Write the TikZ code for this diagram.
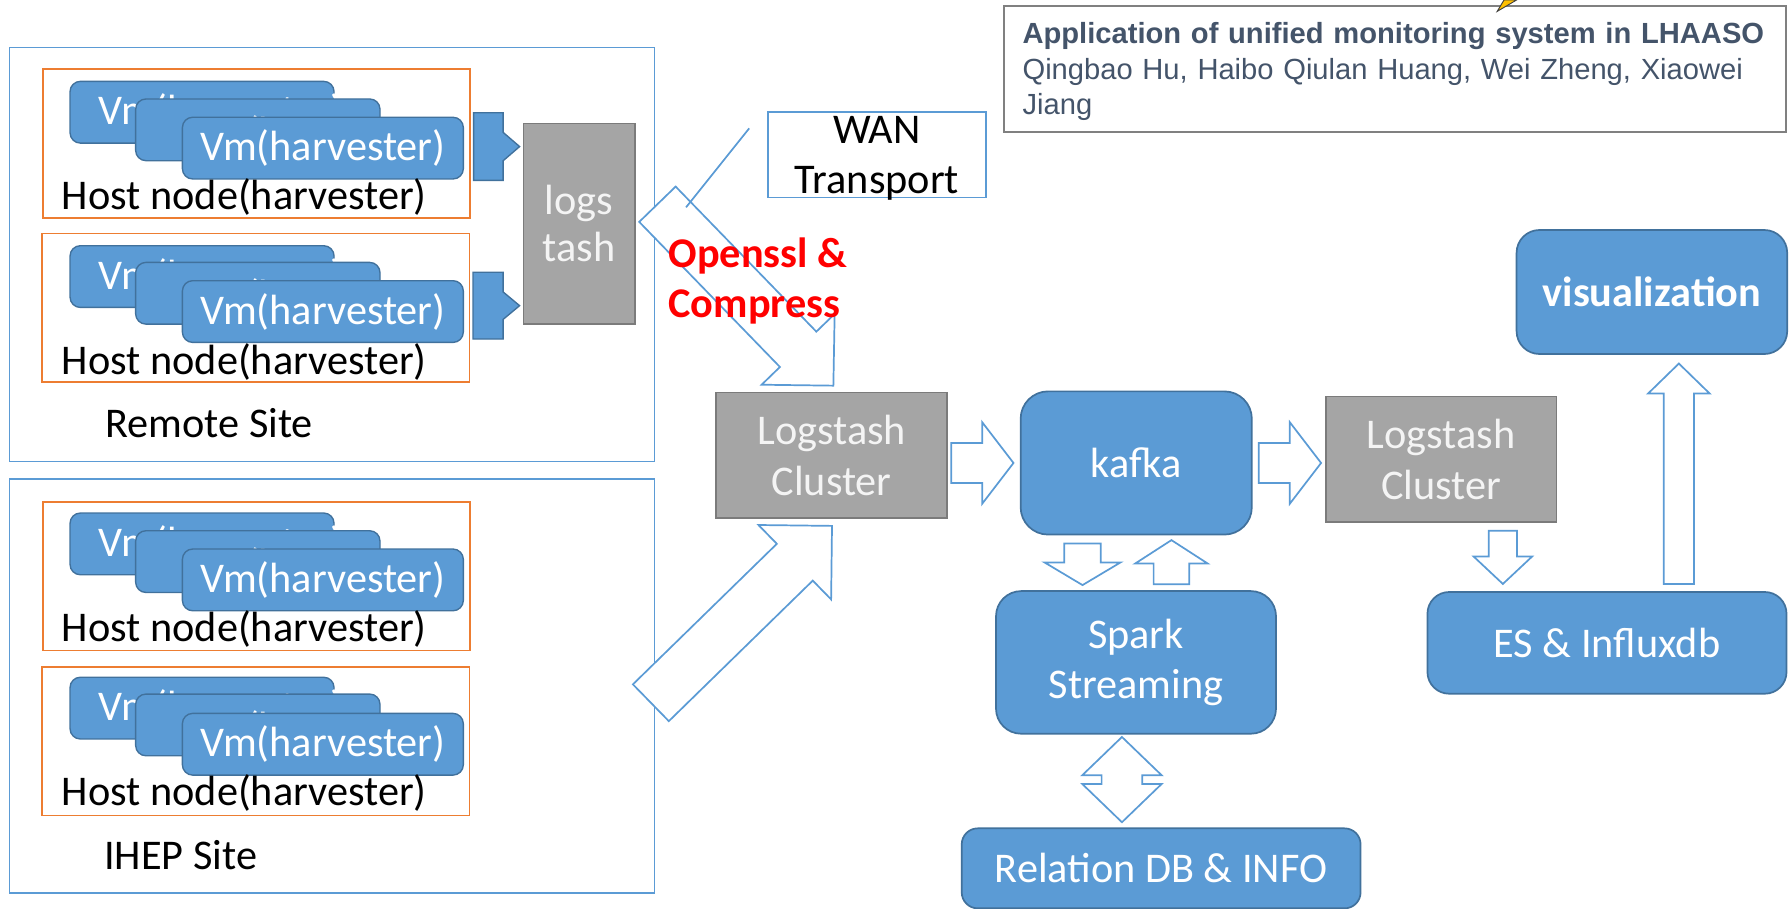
\documentclass[tikz,border=0pt]{standalone}
\usepackage{fontspec}
\setmainfont{Carlito}
\newfontfamily\titlefont{Liberation Sans}
\usetikzlibrary{calc}

\definecolor{offblue}{HTML}{5B9BD5}
\definecolor{edgeblue}{HTML}{41719C}
\definecolor{offorange}{HTML}{ED7D31}
\definecolor{boxgray}{HTML}{A5A5A5}
\definecolor{edgegray}{HTML}{7B7B7B}
\definecolor{graytext}{HTML}{F4F4F4}
\definecolor{titleink}{HTML}{44546A}
\definecolor{framegray}{HTML}{808080}
\definecolor{pinyellow}{HTML}{FFC000}

\newcommand{\slidefont}{\fontsize{37}{44}\selectfont}

\tikzset{
  site/.style={draw=offblue, line width=1.5pt, minimum width=564.4pt, minimum height=362.3pt, anchor=north west},
  sitelabel/.style={anchor=base west, font=\slidefont},
  host/.style={draw=offorange, line width=1.5pt, minimum width=373.8pt, minimum height=130pt, anchor=north west},
  hostlabel/.style={anchor=base west, font=\slidefont},
  vm/.style={draw=edgeblue, fill=offblue, line width=1.2pt, rounded corners=9pt, text=white, font=\slidefont, minimum height=54pt, anchor=north west},
  vmback/.style={vm, minimum width=231pt, text width=182pt, align=left},
  vmmid/.style={vm, minimum width=213.8pt, text width=120pt, align=left, text height=29pt, text depth=0pt},
  vmfront/.style={vm, minimum width=245.8pt},
  graybox/.style={draw=edgegray, fill=boxgray, line width=1.5pt, text=graytext, font=\slidefont, align=center},
  bluebox/.style={draw=edgeblue, fill=offblue, line width=1.5pt, text=white, font=\slidefont, align=center},
  wanbox/.style={draw=offblue, line width=1.5pt, font=\slidefont, align=center, text depth=0pt, minimum width=191pt, minimum height=74.4pt},
  redlabel/.style={anchor=west, text=red, font=\slidefont\bfseries, align=left},
  hollow/.style={draw=offblue, fill=white, line width=1.5pt},
  solidarrow/.style={draw=edgeblue, fill=offblue, line width=1.2pt},
  titlebox/.style={anchor=north west, draw=framegray, line width=1.5pt, fill=white, minimum width=684.5pt, minimum height=110.6pt, text width=651.5pt, inner xsep=16.5pt, align=left, text=titleink, font=\titlefont\fontsize{25.5}{31}\selectfont}
}

\newcommand{\blockarrow}[6][]{%
  \coordinate (ba-s) at (#2);
  \coordinate (ba-t) at (#3);
  \coordinate (ba-b) at ($(ba-t)!#6!(ba-s)$);
  \draw[#1] ($(ba-s)!#4!90:(ba-t)$) -- ($(ba-b)!#4!90:(ba-t)$)
    -- ($(ba-b)!#5!90:(ba-t)$) -- (ba-t)
    -- ($(ba-b)!#5!-90:(ba-t)$) -- ($(ba-b)!#4!-90:(ba-t)$)
    -- ($(ba-s)!#4!-90:(ba-t)$) -- cycle;
}
\newcommand{\twinarrow}[6][]{%
  \coordinate (ta-a) at (#2);
  \coordinate (ta-t) at (#3);
  \coordinate (ta-p) at ($(ta-a)!#6!(ta-t)$);
  \coordinate (ta-q) at ($(ta-t)!#6!(ta-a)$);
  \draw[#1] (ta-a) -- ($(ta-p)!#5!90:(ta-t)$) -- ($(ta-p)!#4!90:(ta-t)$)
    -- ($(ta-q)!#4!90:(ta-t)$) -- ($(ta-q)!#5!90:(ta-t)$) -- (ta-t)
    -- ($(ta-q)!#5!-90:(ta-t)$) -- ($(ta-q)!#4!-90:(ta-t)$)
    -- ($(ta-p)!#4!-90:(ta-t)$) -- ($(ta-p)!#5!-90:(ta-t)$) -- cycle;
}

\begin{document}
\begin{tikzpicture}[x=1pt, y=1pt]
        \tikzstyle{every node}+=[inner sep=0pt]
        \useasboundingbox (0,0) rectangle (1568,-795);
        \node [site] (remote) at (7.6,-40.8) {};
        \node [site] (ihep) at (7.6,-418.5) {};
        \node [sitelabel] (remotelbl) at (92,-383) {Remote Site};
        \node [sitelabel] (iheplbl) at (91,-760.6) {IHEP Site};
        \node [host] (hostA) at (36.8,-59.8) {};
        \node [host] (hostB) at (36.3,-203.6) {};
        \node [host] (hostC) at (36.8,-438.4) {};
        \node [host] (hostD) at (36.3,-582.7) {};
        \node [vmback] (vmA1) at (60.7,-70.6) {\mbox{Vm(harvester)}};
        \node [vmmid] (vmA2) at (118.1,-86) {\mbox{Vm(harvester)}};
        \node [vmfront] (vmA3) at (159,-102) {Vm(harvester)};
        \node [vmback] (vmB1) at (60.7,-214.4) {\mbox{Vm(harvester)}};
        \node [vmmid] (vmB2) at (118.1,-229) {\mbox{Vm(harvester)}};
        \node [vmfront] (vmB3) at (159,-245) {Vm(harvester)};
        \node [vmback] (vmC1) at (60.7,-448.3) {\mbox{Vm(harvester)}};
        \node [vmmid] (vmC2) at (118.1,-463.8) {\mbox{Vm(harvester)}};
        \node [vmfront] (vmC3) at (159,-479.8) {Vm(harvester)};
        \node [vmback] (vmD1) at (60.7,-592) {\mbox{Vm(harvester)}};
        \node [vmmid] (vmD2) at (118.1,-606.7) {\mbox{Vm(harvester)}};
        \node [vmfront] (vmD3) at (159,-623.6) {Vm(harvester)};
        \node [hostlabel] (hostAlbl) at (54,-183.7) {Host node(harvester)};
        \node [hostlabel] (hostBlbl) at (54,-327.8) {Host node(harvester)};
        \node [hostlabel] (hostClbl) at (54,-561.4) {Host node(harvester)};
        \node [hostlabel] (hostDlbl) at (54,-704.8) {Host node(harvester)};
        \node [graybox, minimum width=97.6pt, minimum height=175.8pt] (logs) at (506.8,-195.9) {logs\\[-3pt]tash};
        \blockarrow[solidarrow]{$(hostA.east)+(2.3,-2.7)$}{$(logs.west |- hostA.east)+(-2.6,-2.7)$}{29.6pt}{12.4pt}{14.4pt}
        \blockarrow[solidarrow]{$(hostB.east)+(2.3,1.9)$}{$(logs.west |- hostB.east)+(-2.6,1.9)$}{29.2pt}{12pt}{14.4pt}
        \node [wanbox] (wan) at (767.2,-135.5) {WAN\\Transport};
        \node [graybox, minimum width=202.4pt, minimum height=110pt] (lsA) at (727.7,-398.5) {Logstash\\Cluster};
        \node [bluebox, minimum width=202.3pt, minimum height=125.3pt, rounded corners=24pt] (kafka) at (994.2,-405.1) {kafka};
        \node [graybox, minimum width=202pt, minimum height=110pt] (lsB) at (1261,-402) {Logstash\\Cluster};
        \node [bluebox, minimum width=245pt, minimum height=124.8pt, rounded corners=22pt] (spark) at (994,-579.6) {Spark\\Streaming};
        \node [bluebox, minimum width=349pt, minimum height=70pt, rounded corners=14pt] (rdb) at (1016,-759.8) {Relation DB \& INFO};
        \node [bluebox, minimum width=314.2pt, minimum height=89pt, rounded corners=19pt] (esdb) at (1406.1,-562.5) {ES \& Influxdb};
        \node [bluebox, minimum width=236.8pt, minimum height=108.5pt, rounded corners=20pt, font=\slidefont\bfseries] (vis) at (1445.4,-255.5) {visualization};
        \blockarrow[hollow]{$(logs.east)+(18.9,17.2)$}{$(lsA.north)+(1.5,5.3)$}{22.2pt}{44.5pt}{44.3pt}
        \blockarrow[hollow]{$(ihep.east)+(-4,-14.5)$}{$(lsA.south)+(0.3,-5.9)$}{22.5pt}{45.5pt}{45.5pt}
        \node [redlabel] (ssl) at (584.8,-245.6) {Openssl \&\\Compress};
        \coordinate (wantail) at ($(wan.west)+(-15.4,23.2)$);
        \coordinate (wanhead) at (600.3,-181.4);
        \draw [offblue, line width=1.5pt] (wantail) -- (wanhead);
        \blockarrow[hollow]{$(lsA.east |- kafka.west)+(2.7,0)$}{$(kafka.west)+(-5.5,0)$}{17.5pt}{35.7pt}{27.4pt}
        \blockarrow[hollow]{$(kafka.east)+(5.3,0)$}{$(lsB.west |- kafka.east)+(-3.3,0)$}{17.5pt}{35.7pt}{27.4pt}
        \blockarrow[hollow]{$(kafka.south)+(-47,-7)$}{$(spark.north)+(-46.8,4.5)$}{16pt}{33.2pt}{19.8pt}
        \blockarrow[hollow]{$(spark.north)+(31,5.3)$}{$(kafka.south)+(30.8,-4.1)$}{15.6pt}{31.6pt}{20.4pt}
        \twinarrow[hollow]{$(spark.south)+(-12.3,-2.1)$}{$(rdb.north)+(-34.3,4.6)$}{17.8pt}{34.75pt}{33.5pt}
        \blockarrow[hollow]{$(lsB.south)+(54,-6.6)$}{$(esdb.north)+(-91.1,6.3)$}{12.35pt}{25.7pt}{24.1pt}
        \blockarrow[hollow]{$(esdb.north)+(62.9,6.3)$}{$(vis.south)+(23.6,-7.6)$}{13.3pt}{27pt}{26.3pt}
        \node [titlebox] (title) at (877.5,-4.4) {\rule{0pt}{23.2pt}\textbf{Application of unified monitoring system in LHAASO}\\Qingbao Hu, Haibo Qiulan Huang, Wei Zheng, Xiaowei\\Jiang};
        \fill [pinyellow, draw=black!75, line width=0.8pt] (1316,0) -- (1327,0) -- (1310,-10) -- cycle;
\end{tikzpicture}
\end{document}
